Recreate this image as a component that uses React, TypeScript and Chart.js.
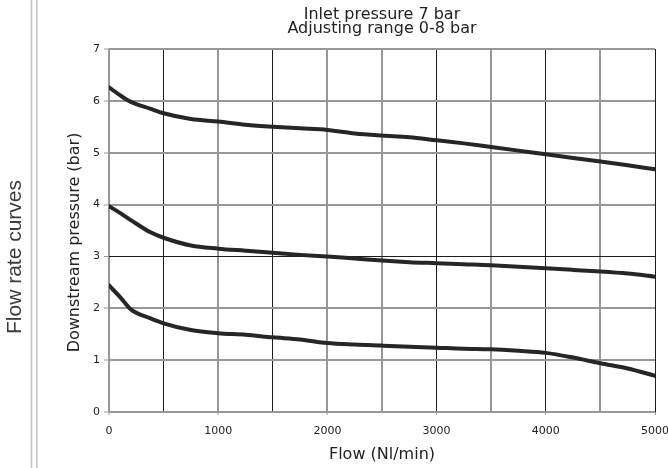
import React, { useEffect, useRef } from 'react';
import { Chart, registerables } from 'chart.js';

Chart.register(...registerables);

// ---- data ----
const flows = [0, 100, 200, 375, 500, 750, 1000, 1250, 1500, 1750, 2000, 2250, 2500, 2750, 3000, 3250, 3500, 3750, 4000, 4250, 4500, 4750, 5000];
const curveHigh = [6.26, 6.11, 5.98, 5.85, 5.76, 5.65, 5.6, 5.54, 5.5, 5.47, 5.44, 5.37, 5.33, 5.3, 5.24, 5.18, 5.11, 5.04, 4.97, 4.9, 4.83, 4.76, 4.68];
const curveMid = [3.97, 3.84, 3.7, 3.47, 3.36, 3.21, 3.15, 3.11, 3.07, 3.03, 3.0, 2.96, 2.92, 2.89, 2.87, 2.85, 2.83, 2.8, 2.77, 2.74, 2.71, 2.67, 2.61];
const curveLow = [2.44, 2.22, 1.98, 1.81, 1.71, 1.58, 1.52, 1.49, 1.44, 1.4, 1.33, 1.3, 1.28, 1.26, 1.24, 1.22, 1.21, 1.18, 1.14, 1.05, 0.94, 0.84, 0.7];
const xLabelTicks = [0, 1000, 2000, 3000, 4000, 5000];
const darkXGrid = [500, 1500, 3000, 4000, 5000];
const darkYGrid = [3];
const titleLines = ['Inlet pressure 7 bar', 'Adjusting range 0-8 bar'];
const xTitle = 'Flow (Nl/min)';
const yTitle = 'Downstream pressure (bar)';
const sideLabel = 'Flow rate curves';

const FONT = "'DejaVu Sans', sans-serif";
const GRAY = '#979797';
const DARK = '#1c1c1c';
const CURVE = '#262626';

const decorPlugin = {
  id: 'decor',
  afterDraw(chart: any) {
    const { ctx, chartArea } = chart;
    ctx.save();
    // double vertical rules on the left
    ctx.strokeStyle = '#c4c4c4';
    ctx.lineWidth = 1.5;
    ctx.beginPath();
    ctx.moveTo(31.5, 0);
    ctx.lineTo(31.5, 468);
    ctx.moveTo(36.8, 0);
    ctx.lineTo(36.8, 468);
    ctx.stroke();

    // side label
    ctx.fillStyle = '#3c3c3c';
    ctx.font = "21px 'Liberation Sans', Arial, sans-serif";
    ctx.textAlign = 'center';
    ctx.textBaseline = 'middle';
    ctx.translate(15.5, 257);
    ctx.rotate(-Math.PI / 2);
    ctx.fillText(sideLabel, 0, 0);
    ctx.restore();

    // y axis title
    ctx.save();
    ctx.fillStyle = '#222';
    ctx.font = '16px ' + FONT;
    ctx.textAlign = 'center';
    ctx.textBaseline = 'middle';
    const cy = chartArea.top + (chartArea.bottom - chartArea.top) * 0.533;
    ctx.translate(75, cy);
    ctx.rotate(-Math.PI / 2);
    ctx.fillText(yTitle, 0, 0);
    ctx.restore();
  },
};

export default function App() {
  const ref = useRef<HTMLCanvasElement | null>(null);

  useEffect(() => {
    if (!ref.current) return;
    const mk = (vals: number[]) => flows.map((f, i) => ({ x: f, y: vals[i] }));
    const ds = (label: string, vals: number[]) => ({
      label,
      data: mk(vals),
      borderColor: CURVE,
      borderWidth: 4,
      pointRadius: 0,
      tension: 0.4,
      cubicInterpolationMode: 'monotone' as const,
      borderCapStyle: 'round' as const,
      borderJoinStyle: 'round' as const,
      fill: false,
    });

    const chart = new Chart(ref.current, {
      type: 'line',
      data: {
        datasets: [ds('High', curveHigh), ds('Mid', curveMid), ds('Low', curveLow)],
      },
      options: {
        animation: false,
        responsive: false,
        devicePixelRatio: 1,
        layout: { padding: { left: 0, right: 13, top: 0, bottom: 0 } },
        plugins: {
          legend: { display: false },
          tooltip: { enabled: false },
          title: {
            display: true,
            fullSize: false,
            text: titleLines,
            color: '#222',
            font: { family: FONT, size: 16, weight: 'normal', lineHeight: 0.875 },
            padding: { top: 8, bottom: 13 },
          },
        },
        scales: {
          x: {
            type: 'linear',
            min: 0,
            max: 5000,
            border: { display: false },
            ticks: {
              stepSize: 500,
              autoSkip: false,
              maxRotation: 0,
              padding: 10,
              color: '#222',
              font: { family: FONT, size: 11 },
              callback: (v: any) => (xLabelTicks.includes(Number(v)) ? String(v) : ''),
            },
            grid: {
              color: (c: any) => (darkXGrid.includes(c.tick?.value) ? DARK : GRAY),
              lineWidth: (c: any) => (darkXGrid.includes(c.tick?.value) ? 1 : 2),
              tickLength: 3,
              tickColor: (c: any) => (xLabelTicks.includes(c.tick?.value) ? GRAY : 'rgba(0,0,0,0)'),
              tickWidth: 1,
            },
            title: {
              display: true,
              text: xTitle,
              color: '#222',
              font: { family: FONT, size: 16 },
              padding: { top: 0, bottom: 4 },
            },
            afterFit: (s: any) => {
              s.height = 56;
              s.paddingLeft = 0;
              s.paddingRight = 0;
            },
          },
          y: {
            min: 0,
            max: 7,
            border: { display: false },
            ticks: {
              stepSize: 1,
              padding: 4,
              color: '#222',
              font: { family: FONT, size: 11 },
            },
            grid: {
              color: (c: any) => (darkYGrid.includes(c.tick?.value) ? DARK : GRAY),
              lineWidth: (c: any) => (darkYGrid.includes(c.tick?.value) ? 1 : 2),
              tickLength: 5,
              tickColor: GRAY,
              tickWidth: 1,
            },
            afterFit: (s: any) => {
              s.width = 109;
              s.paddingTop = 0;
              s.paddingBottom = 0;
            },
          },
        },
      },
      plugins: [decorPlugin],
    });
    return () => chart.destroy();
  }, []);

  return (
    <div style={{ position: 'absolute', left: 0, top: 0, width: 668, height: 468, background: '#fff' }}>
      <canvas ref={ref} width={668} height={468} style={{ display: 'block', width: 668, height: 468 }} />
    </div>
  );
}
